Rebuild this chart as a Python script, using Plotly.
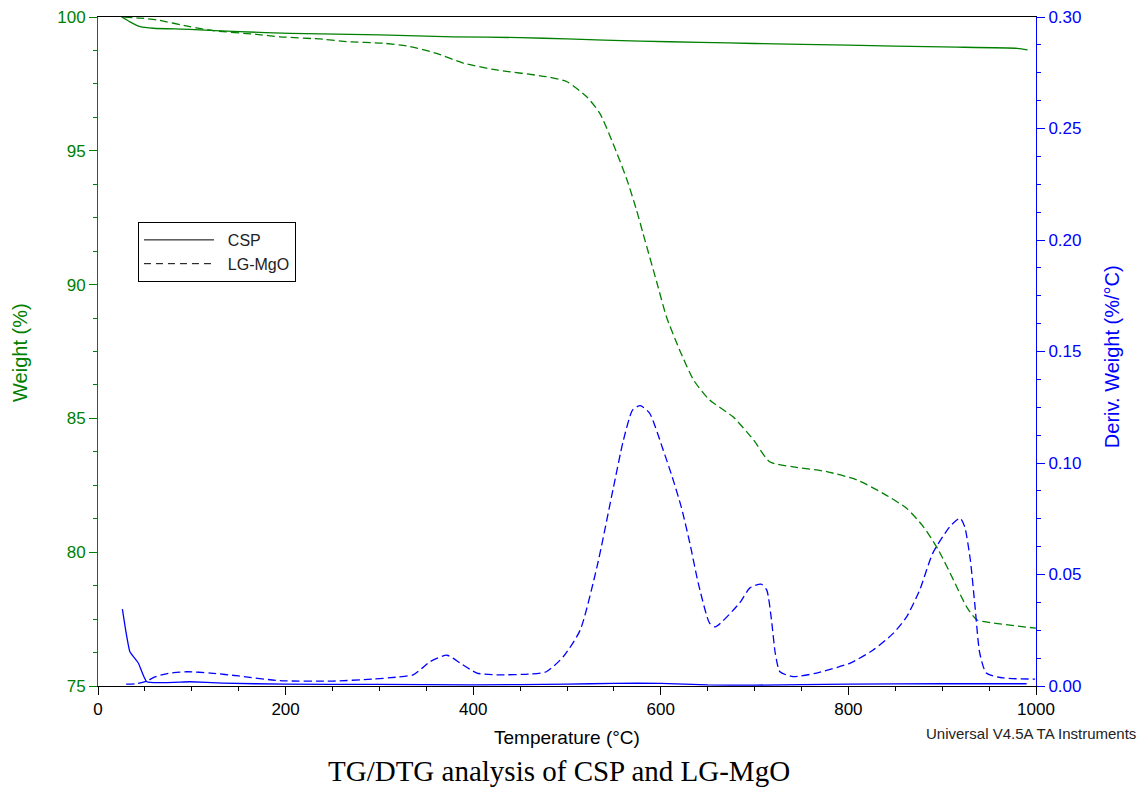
import plotly.graph_objects as go

# ---------------- data ----------------
csp_w_T = [25, 27, 34, 45, 59, 98, 151, 205, 301, 379, 450, 500, 578, 642, 700, 800, 900, 980, 991]
csp_w = [100.0, 99.97, 99.82, 99.64, 99.58, 99.54, 99.45, 99.39, 99.33, 99.26, 99.23, 99.18, 99.10, 99.05,
         99.01, 98.95, 98.88, 98.83, 98.77]

lg_w_T = [28, 45, 63, 98, 123, 169, 194, 240, 265, 304, 329, 361, 390, 425, 478, 500, 521, 535, 549, 564,
          574, 581, 596, 606, 620, 635, 652, 677, 699, 716, 741, 777, 809, 837, 862, 880, 896, 912, 926,
          937, 951, 1000]
lg_w = [100.0, 99.96, 99.89, 99.64, 99.49, 99.35, 99.26, 99.17, 99.08, 99.02, 98.92, 98.64, 98.27, 98.02,
        97.77, 97.58, 97.02, 96.40, 95.28, 93.91, 92.80, 91.92, 90.05, 88.80, 87.56, 86.43, 85.69, 85.06,
        84.19, 83.38, 83.19, 83.01, 82.70, 82.20, 81.64, 80.95, 80.08, 78.96, 77.96, 77.47, 77.37, 77.16]

csp_d_T = [26, 30, 34, 43, 52, 98, 133, 200, 300, 400, 500, 550, 600, 650, 700, 800, 900, 990]
csp_d = [0.0345, 0.0238, 0.0154, 0.0103, 0.0019, 0.0019, 0.0013, 0.0008, 0.0007, 0.0005, 0.0008, 0.0012,
         0.0012, 0.0005, 0.0004, 0.0008, 0.0010, 0.0010]

lg_d_T = [30, 40, 52, 60, 75, 95, 120, 150, 194, 250, 293, 319, 336, 345, 354, 372, 386, 404, 425, 461,
          478, 496, 514, 532, 549, 560, 570, 578, 588, 602, 612, 622, 631, 640, 652, 658, 684, 695, 707,
          713, 718, 722, 727, 741, 766, 802, 826, 848, 862, 876, 890, 908, 919, 924, 930, 935, 940, 947,
          965, 999]
lg_d = [0.0008, 0.0010, 0.0022, 0.0040, 0.0057, 0.0064, 0.0058, 0.0045, 0.0024, 0.0022, 0.0031, 0.0040,
        0.0050, 0.0078, 0.0109, 0.0138, 0.0103, 0.0058, 0.0050, 0.0054, 0.0064, 0.0131, 0.0250, 0.0535,
        0.0880, 0.1100, 0.1238, 0.1257, 0.1224, 0.1065, 0.0940, 0.0800, 0.0640, 0.0460, 0.0282, 0.0265,
        0.0372, 0.0440, 0.0457, 0.0430, 0.0296, 0.0148, 0.0064, 0.0042, 0.0058, 0.0103, 0.0160, 0.0237,
        0.0310, 0.0430, 0.0596, 0.0714, 0.0753, 0.0714, 0.0565, 0.0356, 0.0148, 0.0058, 0.0036, 0.0031]

series_names = ["CSP", "LG-MgO"]

GREEN = "#008000"
BLUE = "#0000ff"
FONT = "Arial, Liberation Sans, sans-serif"
DASH = "8px,4px"
NB = "\u00a0\u00a0"

fig = go.Figure()

fig.add_trace(go.Scatter(x=csp_w_T, y=csp_w, mode="lines", yaxis="y",
                         line=dict(color=GREEN, width=1.3, shape="spline", smoothing=0.6), showlegend=False))
fig.add_trace(go.Scatter(x=lg_w_T, y=lg_w, mode="lines", yaxis="y",
                         line=dict(color=GREEN, width=1.3, dash=DASH, shape="spline", smoothing=0.6),
                         showlegend=False))
fig.add_trace(go.Scatter(x=csp_d_T, y=csp_d, mode="lines", yaxis="y2",
                         line=dict(color=BLUE, width=1.3, shape="spline", smoothing=0.4), showlegend=False))
fig.add_trace(go.Scatter(x=lg_d_T, y=lg_d, mode="lines", yaxis="y2",
                         line=dict(color=BLUE, width=1.3, dash=DASH, shape="spline", smoothing=0.6),
                         showlegend=False))

# legend entries (black samples, as in the reference)
fig.add_trace(go.Scatter(x=[None], y=[None], mode="lines", name=NB + series_names[0],
                         line=dict(color="black", width=1)))
fig.add_trace(go.Scatter(x=[None], y=[None], mode="lines", name=NB + series_names[1],
                         line=dict(color="black", width=1, dash="7px,5px")))

fig.update_layout(
    width=1146, height=787,
    margin=dict(l=98, r=110, t=17, b=101, autoexpand=False),
    paper_bgcolor="white", plot_bgcolor="white",
    font=dict(family=FONT, size=17, color="black"),
    xaxis=dict(range=[0, 1000], tick0=0, dtick=200, ticks="outside", ticklen=8, tickwidth=1,
               tickcolor="black", showline=True, linecolor="black", linewidth=1, mirror=True,
               showgrid=False, zeroline=False, tickfont=dict(size=17, color="black"), automargin=False,
               minor=dict(dtick=50, ticks="outside", ticklen=4, tickcolor="black", showgrid=False)),
    yaxis=dict(range=[75, 100], tick0=75, dtick=5, ticks="outside", ticklen=8, tickcolor=GREEN,
               showline=True, linecolor=GREEN, linewidth=1, showgrid=False, zeroline=False,
               tickfont=dict(size=17, color=GREEN), automargin=False,
               minor=dict(dtick=1.25, ticks="outside", ticklen=4, tickcolor=GREEN, showgrid=False)),
    yaxis2=dict(range=[0, 0.30], tick0=0, dtick=0.05, tickformat=".2f", overlaying="y", side="right",
                ticks="outside", ticklen=8, tickcolor=BLUE, showline=True, linecolor=BLUE, linewidth=1,
                showgrid=False, zeroline=False, tickfont=dict(size=17, color=BLUE), automargin=False,
                minor=dict(dtick=0.0125, ticks="outside", ticklen=4, tickcolor=BLUE, showgrid=False)),
    legend=dict(x=0.0426, y=0.6936, xanchor="left", yanchor="top", bordercolor="black", borderwidth=1,
                bgcolor="white", font=dict(family=FONT, size=16, color="#222222"), itemwidth=70,
                tracegroupgap=0),
    annotations=[
        dict(text="Temperature (°C)", x=0.5, y=-0.0777, xref="paper", yref="paper", showarrow=False,
             xanchor="center", yanchor="middle", font=dict(family=FONT, size=19, color="black")),
        dict(text="Universal V4.5A TA Instruments", x=1.1087, y=-0.0703, xref="paper", yref="paper",
             showarrow=False, xanchor="right", yanchor="middle", font=dict(family=FONT, size=15, color="#222222")),
        dict(text="TG/DTG analysis of CSP and LG-MgO", x=0.4915, y=-0.127, xref="paper", yref="paper",
             showarrow=False, xanchor="center", yanchor="middle",
             font=dict(family="Times New Roman, Liberation Serif, serif", size=29, color="black")),
        dict(text="Weight (%)", x=-0.0832, y=0.4993, xref="paper", yref="paper", showarrow=False,
             textangle=-90, xanchor="center", yanchor="middle", font=dict(family=FONT, size=20, color=GREEN)),
        dict(text="Deriv. Weight (%/°C)", x=1.081, y=0.493, xref="paper", yref="paper", showarrow=False,
             textangle=-90, xanchor="center", yanchor="middle", font=dict(family=FONT, size=20, color=BLUE)),
    ],
)

fig.write_html("out.html")
